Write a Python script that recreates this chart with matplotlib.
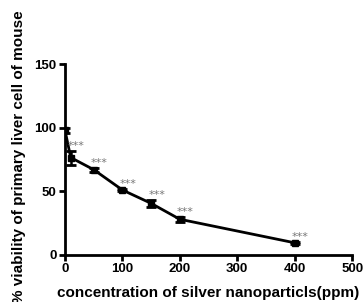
import matplotlib
matplotlib.use("Agg")
import matplotlib.pyplot as plt

conc = [0, 10, 50, 100, 150, 200, 400]
viability = [98, 76.5, 67, 51, 40.5, 28, 9.5]
err = [2, 5.5, 1.5, 1, 2.5, 2, 0.8]
signif = ["", "***", "***", "***", "***", "***", "***"]
xticks = [0, 100, 200, 300, 400, 500]
yticks = [0, 50, 100, 150]

plt.rcParams['font.family'] = ['Liberation Sans', 'DejaVu Sans']
plt.rcParams['font.weight'] = 'bold'

fig = plt.figure(figsize=(3.63, 3.02), dpi=100)
ax = fig.add_axes([0.179, 0.156, 0.791, 0.632])

ax.errorbar(conc, viability, yerr=err, color='black', lw=2, marker='s',
            markersize=4.5, capsize=3.3, capthick=2, elinewidth=1.8)

for x, y, e, s in zip(conc, viability, err, signif):
    if s:
        ax.annotate(s, xy=(x, y + e), xytext=(4, 0), textcoords='offset points',
                    ha='center', va='bottom', fontsize=8, color='#777777',
                    fontweight='normal', family='DejaVu Sans')

ax.set_xlim(0, 500)
ax.set_ylim(0, 150)
ax.set_xticks(xticks)
ax.set_yticks(yticks)
for sp in ['top', 'right']:
    ax.spines[sp].set_visible(False)
for sp in ['left', 'bottom']:
    ax.spines[sp].set_linewidth(2)
ax.tick_params(direction='out', length=4, width=2, labelsize=9.5, pad=2)
for lab in ax.get_xticklabels() + ax.get_yticklabels():
    lab.set_fontweight('bold')

ax.set_xlabel('concentration of silver nanoparticls(ppm)', fontsize=11,
              fontweight='bold')
ax.xaxis.set_label_coords(0.5, -0.165)
ax.set_ylabel('% viability of primary liver cell of mouse', fontsize=11,
              fontweight='bold')
ax.yaxis.set_label_coords(-0.136, 0.513)

fig.savefig('out.png', dpi=100)
